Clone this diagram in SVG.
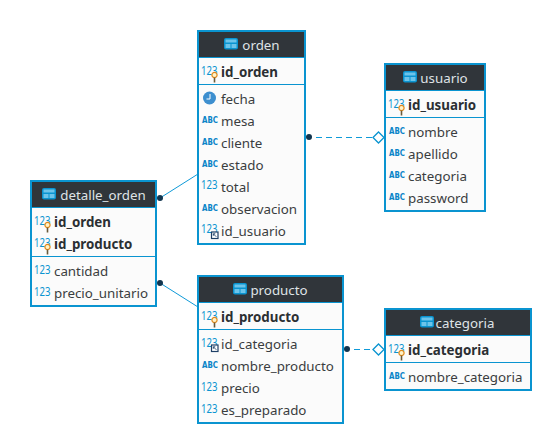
<svg xmlns="http://www.w3.org/2000/svg" width="542" height="434" viewBox="0 0 542 434">
<style>
text{font-family:"Noto Sans","Open Sans",sans-serif}
.box{fill:#fbfbfb;stroke:#0a94d0;stroke-width:2}
.head{fill:#30353a}
.div{stroke:#0a94d0;stroke-width:1}
.title{font-size:13.33px;fill:#dfe3e6;text-anchor:middle}
.pk{font-size:13.33px;font-weight:700;fill:#2b2f33}
.col{font-size:13.33px;fill:#3a3d40}
.n{font-size:12px;fill:#0a94d0;font-family:"Noto Sans",sans-serif}
.a{font-size:9px;font-weight:700;fill:#0a84c8;font-family:"DejaVu Sans",sans-serif}
.conn{stroke:#0f9ad8;stroke-width:1;fill:none}
.dash{stroke-dasharray:6 4}
.dot{fill:#12354f}
.dia{fill:#fff;stroke:#0a94d0;stroke-width:1.300}
</style>
<defs>
<g id="tbl"><rect x="0" y="0" width="14" height="11.500" rx="2" fill="#0a94d0"/><rect x="1.500" y="1.500" width="11" height="3" fill="#6cc4ea"/><rect x="1.500" y="6" width="5" height="4" fill="#6cc4ea"/><rect x="7.500" y="6" width="5" height="4" fill="#6cc4ea"/></g>
<g id="key"><circle cx="0" cy="0" r="2.600" fill="#fff3c8" stroke="#e08a1e" stroke-width="1.200"/><path d="M0 2.600V7.500" stroke="#6a5a3a" stroke-width="1.600"/></g>
<g id="fk"><rect x="0" y="0" width="6.500" height="6.500" fill="#fff" stroke="#1e3f66" stroke-width="1.200"/><path d="M1.800 1.800L4.800 4.800M1.800 1.800H3.800M1.800 1.800V3.800" stroke="#1e3f66" stroke-width=".9" fill="none"/></g>
</defs>
<g id="connectors">
<path class="conn" d="M160 198L198 174"/>
<path class="conn" d="M160 283L198 307"/>
<path class="conn dash" d="M316 137.500H373"/>
<path class="conn dash" d="M354 349.500H373"/>
<circle class="dot" cx="309" cy="137" r="3"/>
<circle class="dot" cx="347" cy="349" r="3"/>
<circle class="dot" cx="160" cy="198" r="3"/>
<circle class="dot" cx="160" cy="283" r="3"/>
<path class="dia" d="M373 137.500L378.500 132L384 137.500L378.500 143Z"/>
<path class="dia" d="M373 349.500L378.500 344L384 349.500L378.500 355Z"/>
</g>
<g id="orden">
<rect class="box" x="198" y="31" width="107" height="213"/>
<rect class="head" x="199" y="32" width="105" height="25"/>
<use href="#tbl" x="224" y="38"/>
<text class="title" x="261" y="50">orden</text>
<path class="div" d="M199 57.500H304M199 84.500H304"/>
<text class="n" x="201" y="75" textLength="16.500" lengthAdjust="spacingAndGlyphs">123</text><use href="#key" x="214.500" y="75"/>
<text class="pk" x="221" y="77">id_orden</text>
<circle cx="209.500" cy="98" r="6.500" fill="#3d8fcf"/><path d="M210 94V99H206.500" stroke="#fff" fill="none"/>
<text class="col" x="221" y="104">fecha</text>
<text class="a" x="202" y="123" textLength="16" lengthAdjust="spacingAndGlyphs">ABC</text><text class="col" x="221" y="126">mesa</text>
<text class="a" x="202" y="145" textLength="16" lengthAdjust="spacingAndGlyphs">ABC</text><text class="col" x="221" y="148">cliente</text>
<text class="a" x="202" y="167" textLength="16" lengthAdjust="spacingAndGlyphs">ABC</text><text class="col" x="221" y="170">estado</text>
<text class="n" x="201" y="189" textLength="16.500" lengthAdjust="spacingAndGlyphs">123</text><text class="col" x="221" y="192">total</text>
<text class="a" x="202" y="211" textLength="16" lengthAdjust="spacingAndGlyphs">ABC</text><text class="col" x="221" y="214">observacion</text>
<text class="n" x="201" y="233" textLength="16.500" lengthAdjust="spacingAndGlyphs">123</text><use href="#fk" x="211.500" y="232"/><text class="col" x="221" y="236">id_usuario</text>
</g>
<g id="usuario">
<rect class="box" x="385" y="64" width="100" height="147"/>
<rect class="head" x="386" y="65" width="98" height="25"/>
<use href="#tbl" x="403" y="71"/>
<text class="title" x="444" y="83">usuario</text>
<path class="div" d="M386 90.500H484M386 117.500H484"/>
<text class="n" x="388" y="108" textLength="16.500" lengthAdjust="spacingAndGlyphs">123</text><use href="#key" x="401.500" y="108"/>
<text class="pk" x="408" y="110">id_usuario</text>
<text class="a" x="389" y="134" textLength="16" lengthAdjust="spacingAndGlyphs">ABC</text><text class="col" x="408" y="137">nombre</text>
<text class="a" x="389" y="156" textLength="16" lengthAdjust="spacingAndGlyphs">ABC</text><text class="col" x="408" y="159">apellido</text>
<text class="a" x="389" y="178" textLength="16" lengthAdjust="spacingAndGlyphs">ABC</text><text class="col" x="408" y="181">categoria</text>
<text class="a" x="389" y="200" textLength="16" lengthAdjust="spacingAndGlyphs">ABC</text><text class="col" x="408" y="203">password</text>
</g>
<g id="detalle_orden">
<rect class="box" x="31" y="181" width="125" height="125"/>
<rect class="head" x="32" y="182" width="123" height="25"/>
<use href="#tbl" x="42" y="188"/>
<text class="title" x="103" y="200">detalle_orden</text>
<path class="div" d="M32 207.500H155M32 256.500H155"/>
<text class="n" x="34" y="225" textLength="16.500" lengthAdjust="spacingAndGlyphs">123</text><use href="#key" x="47.500" y="225"/>
<text class="pk" x="54" y="227">id_orden</text>
<text class="n" x="34" y="247" textLength="16.500" lengthAdjust="spacingAndGlyphs">123</text><use href="#key" x="47.500" y="247"/>
<text class="pk" x="54" y="249">id_producto</text>
<text class="n" x="34" y="274" textLength="16.500" lengthAdjust="spacingAndGlyphs">123</text><text class="col" x="54" y="276">cantidad</text>
<text class="n" x="34" y="296" textLength="16.500" lengthAdjust="spacingAndGlyphs">123</text><text class="col" x="54" y="298">precio_unitario</text>
</g>
<g id="producto">
<rect class="box" x="198" y="276" width="145" height="147"/>
<rect class="head" x="199" y="277" width="143" height="25"/>
<use href="#tbl" x="233" y="283"/>
<text class="title" x="279" y="295">producto</text>
<path class="div" d="M199 302.500H342M199 329.500H342"/>
<text class="n" x="201" y="320" textLength="16.500" lengthAdjust="spacingAndGlyphs">123</text><use href="#key" x="214.500" y="320"/>
<text class="pk" x="221" y="322">id_producto</text>
<text class="n" x="201" y="347" textLength="16.500" lengthAdjust="spacingAndGlyphs">123</text><use href="#fk" x="211.500" y="345"/><text class="col" x="221" y="349">id_categoria</text>
<text class="a" x="202" y="368" textLength="16" lengthAdjust="spacingAndGlyphs">ABC</text><text class="col" x="221" y="371">nombre_producto</text>
<text class="n" x="201" y="391" textLength="16.500" lengthAdjust="spacingAndGlyphs">123</text><text class="col" x="221" y="393">precio</text>
<text class="n" x="201" y="413" textLength="16.500" lengthAdjust="spacingAndGlyphs">123</text><text class="col" x="221" y="415">es_preparado</text>
</g>
<g id="categoria">
<rect class="box" x="385" y="309" width="146" height="81"/>
<rect class="head" x="386" y="310" width="144" height="25"/>
<use href="#tbl" x="420" y="316"/>
<text class="title" x="465" y="328">categoria</text>
<path class="div" d="M386 335.500H530M386 362.500H530"/>
<text class="n" x="388" y="353" textLength="16.500" lengthAdjust="spacingAndGlyphs">123</text><use href="#key" x="401.500" y="353"/>
<text class="pk" x="408" y="355">id_categoria</text>
<text class="a" x="389" y="379" textLength="16" lengthAdjust="spacingAndGlyphs">ABC</text><text class="col" x="408" y="382">nombre_categoria</text>
</g>
</svg>
